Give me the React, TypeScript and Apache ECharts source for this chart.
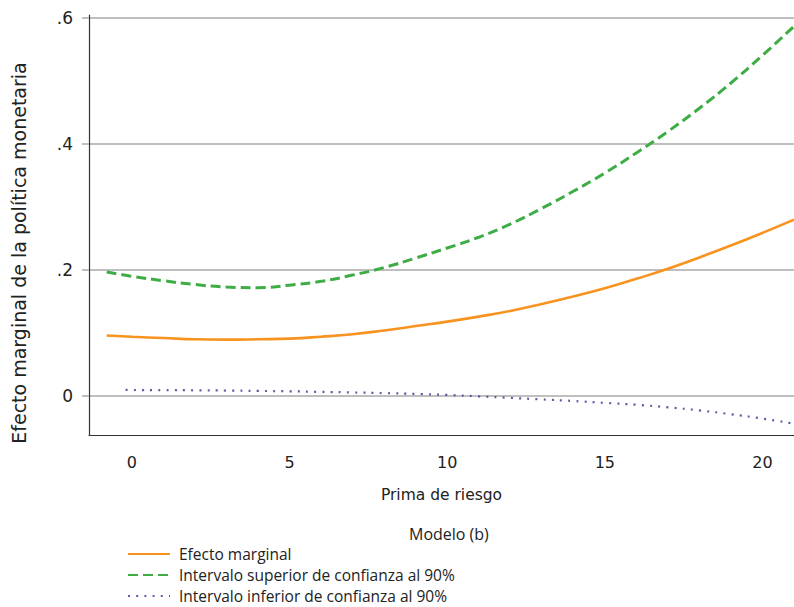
import React, { useEffect, useRef } from "react";
import * as echarts from "echarts";

const xValues = [-0.8, 0, 1, 2, 3, 4, 5, 6, 7, 8, 9, 10, 11, 12, 13, 14, 15, 16, 17, 18, 19, 20, 21];
const efectoMarginal = [0.096, 0.094, 0.092, 0.09, 0.0895, 0.09, 0.091, 0.094, 0.098, 0.104, 0.111, 0.118, 0.126, 0.135, 0.146, 0.158, 0.171, 0.186, 0.202, 0.22, 0.239, 0.259, 0.28];
const intervaloSuperior = [0.197, 0.19, 0.183, 0.177, 0.173, 0.172, 0.176, 0.182, 0.192, 0.204, 0.219, 0.235, 0.252, 0.273, 0.298, 0.325, 0.354, 0.386, 0.42, 0.457, 0.497, 0.541, 0.587];
const xValuesInferior = [-0.2, 0, 1, 2, 3, 4, 5, 6, 7, 8, 9, 10, 11, 12, 13, 14, 15, 16, 17, 18, 19, 20, 21];
const intervaloInferior = [0.0098, 0.0095, 0.0093, 0.009, 0.0086, 0.008, 0.0074, 0.0065, 0.0056, 0.0045, 0.0032, 0.0016, -0.0006, -0.003, -0.0055, -0.008, -0.011, -0.014, -0.018, -0.023, -0.029, -0.036, -0.044];
const yTicks = [0, 0.2, 0.4, 0.6];
const xTicks = [0, 5, 10, 15, 20];

const seriesNames = [
  "Efecto marginal",
  "Intervalo superior de confianza al 90%",
  "Intervalo inferior de confianza al 90%",
];
const yTitle = "Efecto marginal de la política monetaria";

export default function App() {
  const ref = useRef<HTMLDivElement>(null);
  useEffect(() => {
    if (!ref.current) return;
    const chart = echarts.init(ref.current, undefined, { renderer: "svg" });
    const zip = (xs: number[], ys: number[]) => xs.map((x, i) => [x, ys[i]]);
    chart.setOption({
      animation: false,
      backgroundColor: "#ffffff",
      title: {
        text: "Modelo (b)",
        left: 409,
        top: 526,
        padding: 0,
        textStyle: { fontFamily: "Open Sans", fontSize: 16, fontWeight: "normal", color: "#222" },
      },
      graphic: [
        {
          type: "text",
          x: 19,
          y: 253,
          rotation: Math.PI / 2,
          style: {
            text: yTitle,
            fontFamily: "DejaVu Sans",
            fontSize: 19,
            fill: "#222",
            align: "center",
            verticalAlign: "middle",
          },
        },
      ],
      legend: {
        orient: "vertical",
        left: 127,
        top: 546,
        padding: 0,
        height: 80,
        itemWidth: 42,
        itemHeight: 14,
        itemGap: 5,
        data: seriesNames,
        itemStyle: { opacity: 0 },
        textStyle: { fontFamily: "Open Sans", fontSize: 15.5, lineHeight: 15, color: "#222", padding: [0, 0, 0, 4] },
      },
      grid: { left: 89, top: 15, right: 0, bottom: 172, containLabel: false },
      xAxis: {
        type: "value",
        min: -1.36,
        max: 21,
        name: "Prima de riesgo",
        nameLocation: "middle",
        nameGap: 52,
        nameTextStyle: { fontFamily: "DejaVu Sans", fontSize: 15.5, color: "#222" },
        axisLine: { show: true, onZero: false, lineStyle: { color: "#333", width: 1.2 } },
        axisTick: { show: false },
        splitLine: { show: false },
        axisLabel: {
          customValues: xTicks,
          margin: 19,
          fontFamily: "DejaVu Sans",
          fontSize: 16,
          color: "#222",
        },
      },
      yAxis: {
        type: "value",
        min: -0.062,
        max: 0.605,
        axisLine: { show: true, onZero: false, lineStyle: { color: "#333", width: 1.2 } },
        axisTick: { show: true, customValues: yTicks, length: 7, lineStyle: { color: "#aaa", width: 1.5 } },
        splitLine: { show: true, lineStyle: { color: "#aaa", width: 1.5 } },
        axisLabel: {
          customValues: yTicks,
          margin: 16,
          fontFamily: "DejaVu Sans",
          fontSize: 17,
          color: "#222",
          formatter: (v: number) => (v === 0 ? "0" : v.toFixed(1).replace(/^0/, "")),
        },
      },
      series: [
        {
          name: seriesNames[0],
          type: "line",
          data: zip(xValues, efectoMarginal),
          smooth: true,
          showSymbol: false,
          symbol: "none",
          lineStyle: { color: "#f7931e", width: 2.6 },
          itemStyle: { color: "#f7931e" },
        },
        {
          name: seriesNames[1],
          type: "line",
          data: zip(xValues, intervaloSuperior),
          smooth: true,
          showSymbol: false,
          symbol: "none",
          lineStyle: { color: "#3fad46", width: 3, type: [10, 5] },
          itemStyle: { color: "#3fad46" },
        },
        {
          name: seriesNames[2],
          type: "line",
          data: zip(xValuesInferior, intervaloInferior),
          smooth: true,
          showSymbol: false,
          symbol: "none",
          lineStyle: { color: "#5b5ca3", width: 2.2, type: [2, 6.2] },
          itemStyle: { color: "#5b5ca3" },
        },
      ],
    });
    return () => chart.dispose();
  }, []);
  return (
    <div
      ref={ref}
      style={{ position: "fixed", left: 0, top: 0, width: 794, height: 607 }}
    />
  );
}
